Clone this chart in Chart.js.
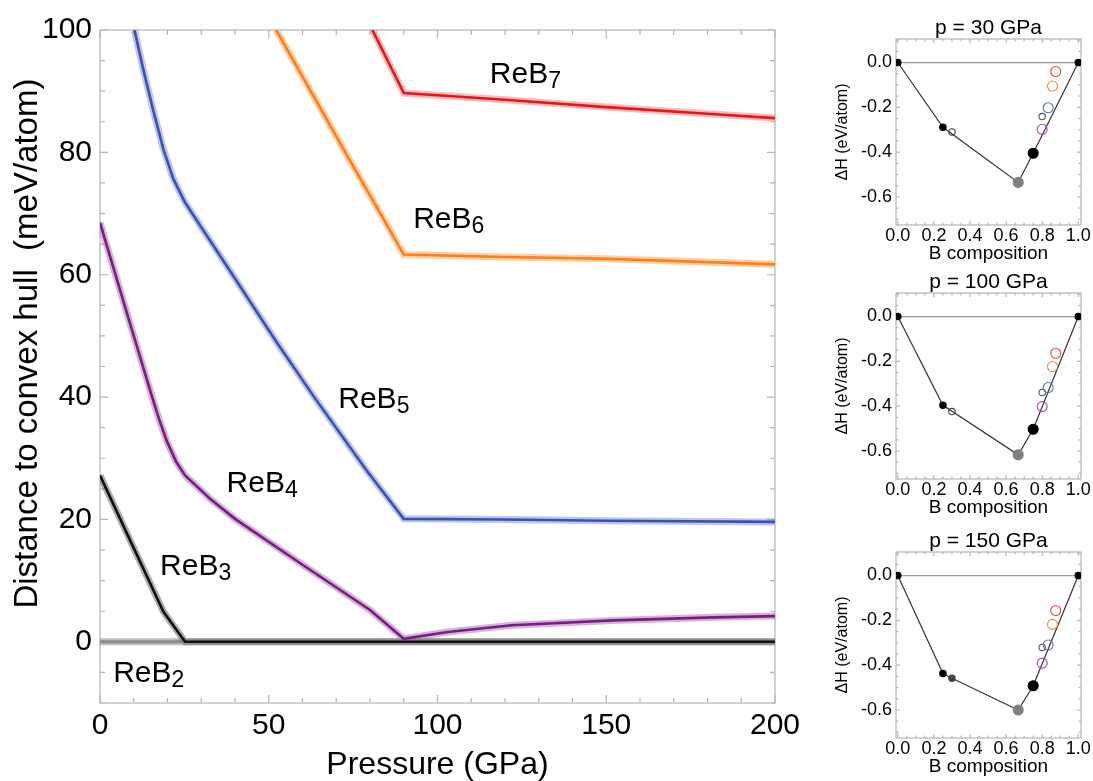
<!DOCTYPE html>
<html>
<head>
<meta charset="utf-8">
<script src="https://cdn.jsdelivr.net/npm/chart.js@4.4.1/dist/chart.umd.min.js"></script>
<style>
  body { margin: 0; background: #fff; width: 1093px; height: 781px; overflow: hidden; position: relative; }
  .box { position: absolute; }
</style>
</head>
<body>
<div class="box" style="left:0;top:0;width:800px;height:781px"><canvas id="mainChart"></canvas></div>
<div class="box" style="left:830px;top:0;width:263px;height:263px"><canvas id="hull30"></canvas></div>
<div class="box" style="left:830px;top:254px;width:263px;height:263px"><canvas id="hull100"></canvas></div>
<div class="box" style="left:830px;top:513px;width:263px;height:263px"><canvas id="hull150"></canvas></div>
<script>
// Distance to the convex hull vs pressure, plus three formation-enthalpy insets
const FONT = '"Liberation Sans", Arial, Helvetica, sans-serif';
Chart.defaults.font.family = FONT;
Chart.defaults.color = '#000';
Chart.defaults.animation = false;

// main plot: pressure (GPa) and distance to hull (meV/atom)
const reb2P = [0, 50, 100, 150, 200];
const reb2E = [0, 0, 0, 0, 0];
const reb3P = [0, 9, 18.8, 25.2, 50, 100, 150, 200];
const reb3E = [27.2, 16.5, 4.9, 0, 0, 0, 0, 0];
const reb4P = [0, 8, 15, 17.5, 19.8, 22.5, 25.2, 32.6, 40, 60, 80, 90, 103, 122, 152, 182, 200];
const reb4E = [68.5, 53.7, 40.8, 36.4, 32.8, 29.5, 27.2, 23.4, 20.1, 12.6, 5.2, 0.5, 1.6, 2.7, 3.5, 4.0, 4.2];
const reb5P = [10.2, 12.8, 15.8, 18.8, 21.7, 25.2, 39.5, 52.3, 63.2, 79, 90, 120, 150, 200];
const reb5E = [100, 93.6, 86.8, 80.5, 75.7, 71.8, 59.8, 49.0, 40.2, 28.0, 20.1, 20.0, 19.8, 19.6];
const reb6P = [52.2, 73.1, 90, 120, 150, 200];
const reb6E = [100, 79.6, 63.3, 62.9, 62.6, 61.7];
const reb7P = [80.7, 90, 120, 150, 180, 200];
const reb7E = [100, 89.7, 88.6, 87.4, 86.3, 85.6];

const xTickLabels = [0, 50, 100, 150, 200];
const yTickLabels = [0, 20, 40, 60, 80, 100];

// curve labels (ReB + subscript) and where they sit, in data units
const curveNames = ['7', '6', '5', '4', '3', '2'];
const curveLabelAt = [[115.5, 91.3], [92.8, 67.7], [70.6, 38.2], [37.5, 24.5], [17.8, 10.9], [3.9, -6.5]];

// insets: B composition and formation enthalpy (eV/atom)
const compB = [0, 0.25, 0.3, 0.667, 0.75, 0.8, 0.8, 0.833, 0.857, 0.875, 1];
const dH30 = [0, -0.289, -0.31, -0.535, -0.405, -0.298, -0.241, -0.202, -0.105, -0.04, 0];
const dH100 = [0, -0.396, -0.424, -0.617, -0.503, -0.402, -0.339, -0.317, -0.223, -0.164, 0];
const dH150 = [0, -0.437, -0.458, -0.6, -0.492, -0.391, -0.321, -0.31, -0.218, -0.156, 0];
const onHull30 = [1, 1, 0, 1, 1, 0, 0, 0, 0, 0, 1];
const onHull100 = [1, 1, 0, 1, 1, 0, 0, 0, 0, 0, 1];
const onHull150 = [1, 1, 1, 1, 1, 0, 0, 0, 0, 0, 1];
const compTicks = [0, 0.2, 0.4, 0.6, 0.8, 1.0];
const dHTicks = [-0.6, -0.4, -0.2, 0];

const phaseColor = ['#000', '#000', '#444', '#808080', '#000', '#A447B4', '#555', '#5B6CCB', '#F28C3C', '#EE4536', '#000'];
const phaseRadius = [3.2, 3.2, 3.2, 5, 5, 5, 3.2, 5, 5, 5, 3.2];

const toPts = (xs, ys) => xs.map((x, i) => ({x: x, y: ys[i]}));

// gray frame with inward ticks on all four sides
function framePlugin(xStep, xMajor, yStep, yMajor, majorLen, minorLen) {
  return {
    id: 'frame',
    beforeDatasetsDraw(chart) {
      const {ctx, chartArea: a, scales: {x, y}} = chart;
      const isMajor = (v, m) => Math.abs(v / m - Math.round(v / m)) < 1e-6;
      ctx.save();
      ctx.strokeStyle = '#b4b4b4';
      ctx.lineWidth = 1.2;
      ctx.strokeRect(a.left, a.top, a.right - a.left, a.bottom - a.top);
      ctx.beginPath();
      for (let k = Math.ceil(x.min / xStep - 1e-9); k * xStep <= x.max + 1e-9; k++) {
        const v = k * xStep, px = x.getPixelForValue(v);
        const len = isMajor(v, xMajor) ? majorLen : minorLen;
        ctx.moveTo(px, a.bottom); ctx.lineTo(px, a.bottom - len);
        ctx.moveTo(px, a.top); ctx.lineTo(px, a.top + len);
      }
      for (let k = Math.ceil(y.min / yStep - 1e-9); k * yStep <= y.max + 1e-9; k++) {
        const v = k * yStep, py = y.getPixelForValue(v);
        const len = isMajor(v, yMajor) ? majorLen : minorLen;
        ctx.moveTo(a.left, py); ctx.lineTo(a.left + len, py);
        ctx.moveTo(a.right, py); ctx.lineTo(a.right - len, py);
      }
      ctx.stroke();
      ctx.restore();
    }
  };
}

const curveLabels = {
  id: 'curveLabels',
  afterDatasetsDraw(chart) {
    const {ctx, scales: {x, y}} = chart;
    ctx.save();
    ctx.fillStyle = '#000';
    ctx.textBaseline = 'alphabetic';
    curveNames.forEach((sub, i) => {
      const px = x.getPixelForValue(curveLabelAt[i][0]);
      const py = y.getPixelForValue(curveLabelAt[i][1]);
      ctx.font = '30px ' + FONT;
      ctx.fillText('ReB', px, py);
      const w = ctx.measureText('ReB').width;
      ctx.font = '23px ' + FONT;
      ctx.fillText(sub, px + w, py + 5);
    });
    ctx.restore();
  }
};

function curve(xs, ys, color, halo, width, order) {
  return [
    {data: toPts(xs, ys), showLine: true, borderColor: color, borderWidth: width, pointRadius: 0, order: order},
    {data: toPts(xs, ys), showLine: true, borderColor: halo, borderWidth: 7, pointRadius: 0, order: 10}
  ];
}

new Chart(document.getElementById('mainChart'), {
  type: 'scatter',
  data: {
    datasets: [
      ...curve(reb3P, reb3E, '#111111', 'rgba(110,110,110,0.55)', 2.6, 1),
      ...curve(reb2P, reb2E, '#8a8a8a', 'rgba(150,150,150,0.6)', 3, 2),
      ...curve(reb4P, reb4E, '#7B1C80', 'rgba(185,130,195,0.6)', 2.6, 1),
      ...curve(reb5P, reb5E, '#3A52B2', 'rgba(145,160,220,0.6)', 2.6, 1),
      ...curve(reb6P, reb6E, '#FF7F12', 'rgba(255,180,125,0.65)', 2.6, 1),
      ...curve(reb7P, reb7E, '#E8161C', 'rgba(245,150,150,0.65)', 2.6, 1)
    ]
  },
  options: {
    responsive: true,
    maintainAspectRatio: false,
    layout: {padding: {top: 30, right: 25, left: 0, bottom: 0}},
    plugins: {legend: {display: false}, tooltip: {enabled: false}},
    scales: {
      x: {
        type: 'linear', min: 0, max: 200,
        afterFit: s => { s.height = 78; s.paddingLeft = 0; s.paddingRight = 0; },
        afterBuildTicks: s => { s.ticks = xTickLabels.map(v => ({value: v})); },
        grid: {display: false, drawTicks: false},
        border: {display: false},
        ticks: {font: {size: 30}, padding: 5, maxRotation: 0, autoSkip: false},
        title: {display: true, text: 'Pressure (GPa)', font: {size: 32, lineHeight: 1}, padding: {top: 0, bottom: 0}}
      },
      y: {
        type: 'linear', min: -10, max: 100,
        afterFit: s => { s.width = 100; },
        afterBuildTicks: s => { s.ticks = yTickLabels.map(v => ({value: v})); },
        grid: {display: false, drawTicks: false},
        border: {display: false},
        ticks: {font: {size: 30}, padding: 8, autoSkip: false},
        title: {display: true, text: '     Distance to convex hull  (meV/atom)', font: {size: 33, lineHeight: 1}, padding: {top: 11.5, bottom: 0}}
      }
    }
  },
  plugins: [framePlugin(10, 50, 5, 20, 8, 5), curveLabels]
});

function hullChart(id, title, dH, onHull) {
  const pts = toPts(compB, dH);
  new Chart(document.getElementById(id), {
    type: 'scatter',
    data: {
      datasets: [
        {
          data: pts, order: 0,
          pointRadius: phaseRadius,
          pointBackgroundColor: phaseColor.map((c, i) => onHull[i] ? c : 'rgba(255,255,255,0)'),
          pointBorderColor: phaseColor,
          pointBorderWidth: 1.1
        },
        {data: pts.filter((p, i) => onHull[i]), showLine: true, borderColor: '#333', borderWidth: 1.2, pointRadius: 0, order: 1},
        {data: [{x: 0, y: 0}, {x: 1, y: 0}], showLine: true, borderColor: '#999', borderWidth: 1.2, pointRadius: 0, order: 2}
      ]
    },
    options: {
      responsive: true,
      maintainAspectRatio: false,
      layout: {padding: {top: 0, right: 12, left: 0, bottom: 0}},
      plugins: {
        legend: {display: false},
        tooltip: {enabled: false},
        title: {display: true, text: title, fullSize: false, color: '#000', font: {size: 21, weight: 'normal', lineHeight: 1}, padding: {top: 18, bottom: 0}}
      },
      scales: {
        x: {
          type: 'linear', min: -0.01, max: 1.015,
          afterFit: s => { s.height = 38; },
          afterBuildTicks: s => { s.ticks = compTicks.map(v => ({value: v})); },
          grid: {display: false, drawTicks: false},
          border: {display: false},
          ticks: {font: {size: 18}, padding: 0, maxRotation: 0, autoSkip: false, callback: v => v.toFixed(1)},
          title: {display: true, text: 'B composition', font: {size: 19, lineHeight: 1}, padding: {top: 0, bottom: 0}}
        },
        y: {
          type: 'linear', min: -0.725, max: 0.105,
          afterFit: s => { s.width = 66; },
          afterBuildTicks: s => { s.ticks = dHTicks.map(v => ({value: v})); },
          grid: {display: false, drawTicks: false},
          border: {display: false},
          ticks: {font: {size: 18}, padding: 4, autoSkip: false, callback: v => v.toFixed(1)},
          title: {display: true, text: 'ΔH (eV/atom)', font: {size: 16, lineHeight: 1}, padding: {top: 5, bottom: 0}}
        }
      }
    },
    plugins: [framePlugin(0.05, 0.2, 0.05, 0.2, 4, 2.5)]
  });
}

hullChart('hull30', 'p = 30 GPa', dH30, onHull30);
hullChart('hull100', 'p = 100 GPa', dH100, onHull100);
hullChart('hull150', 'p = 150 GPa', dH150, onHull150);
</script>
</body>
</html>
